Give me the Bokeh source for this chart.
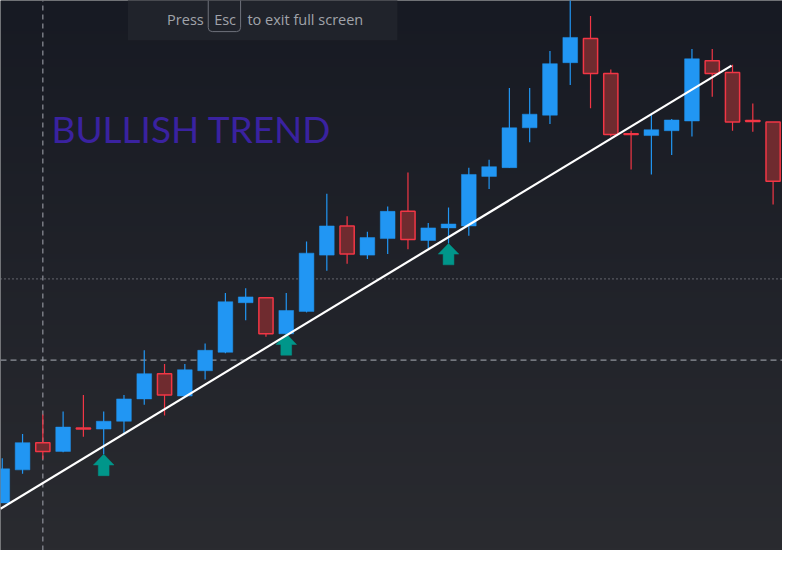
import numpy as np
from bokeh.plotting import figure
from bokeh.models import Range1d
from bokeh.core.properties import value
from bokeh.embed import file_html
from bokeh.resources import INLINE

# ---- data (candle index, price units) ----
idx = list(range(39))
opens  = [49, 83, 111, 102, 126, 125, 133, 156, 182, 159, 185, 204, 255, 260, 223, 246, 304, 334, 304, 321,
          349, 319, 332, 334, 385, 394, 435, 448, 502, 527, 491, 429, 427, 432, 442, 504, 492, 442.5, 441]
closes = [84, 111, 102, 127, 125, 133, 156, 182, 160, 186, 206, 256, 261, 223, 247, 306, 334, 305, 322, 349,
          320, 332, 336, 387, 395, 435, 449, 501, 528, 491, 428, 428, 433, 443, 506, 491, 441, 441.5, 380]
highs  = [95, 120, 140, 143, 160, 143, 160, 206, 192, 192, 213, 265, 270, 260, 265, 318, 367, 344, 328, 354,
          389, 337, 353, 394, 402, 476, 476, 514, 575, 550, 495, 432, 449, 444, 516, 516, 500, 460, 441]
lows   = [49, 79, 94, 101, 117, 99, 121, 150, 139, 159, 176, 203, 237, 220, 223, 245, 288, 295, 300, 305,
          310, 311, 316, 324, 372, 394, 420, 439, 479, 455, 426, 392, 387, 407, 426, 467, 432, 431, 356]

signal_idx = [5, 14, 22]          # buy-signal arrows under these candles
trend_x = [-0.09, 35.95]          # trend line end points
trend_y = [43, 499]
cross_idx = 2                     # crosshair position
cross_price = 196
price_line = 279.5                # dotted price line
title_text = "BULLISH TREND"

# ---- layout helpers (reference pixel -> data) ----
REF_W, REF_H = 798, 566
X0, DX = 1.8, 20.7
def px2x(px):
    return (px - X0) / DX
def py2y(py):
    return REF_H - py

W, H = 782, 550
p = figure(width=W, height=H, output_backend="svg", toolbar_location=None,
           x_range=Range1d(px2x(0), px2x(REF_W)), y_range=Range1d(0, REF_H),
           min_border=0, min_border_left=0, min_border_right=0, min_border_top=0, min_border_bottom=0)
p.axis.visible = False
p.grid.visible = False
p.outline_line_color = None
p.background_fill_color = "#202229"
p.border_fill_color = "#202229"

# background vertical gradient
N = 200
top_c = np.array([23, 26, 35], dtype=float)
bot_c = np.array([42, 43, 48], dtype=float)
t = np.linspace(0, 1, N)[:, None]
cols = bot_c * (1 - t) + top_c * t
img = np.empty((N, 1), dtype=np.uint32)
view = img.view(dtype=np.uint8).reshape((N, 1, 4))
view[:, 0, 0] = cols[:, 0]
view[:, 0, 1] = cols[:, 1]
view[:, 0, 2] = cols[:, 2]
view[:, 0, 3] = 255
p.image_rgba(image=[img], x=px2x(0), y=0, dw=px2x(REF_W) - px2x(0), dh=REF_H)

# dotted price line and dashed crosshair
p.line([px2x(0), px2x(REF_W)], [price_line, price_line], line_color="#8a8d96", line_width=1.2, line_dash="1 3")
p.line([px2x(0), px2x(REF_W)], [cross_price, cross_price], line_color="#8f929b", line_width=1.2, line_dash="6 4")
p.line([cross_idx, cross_idx], [0, REF_H], line_color="#8f929b", line_width=1.2, line_dash="5 4")

# candles
UP, DOWN_FILL, DOWN_LINE = "#2196f3", "#6f2b2f", "#f23645"
is_up = [c >= o for o, c in zip(opens, closes)]
wick_col = [UP if u else DOWN_LINE for u in is_up]
p.segment(x0=idx, y0=lows, x1=idx, y1=highs, line_color=wick_col, line_width=1.2)

ux = [i for i, u in zip(idx, is_up) if u]
utop = [max(o, c) for o, c, u in zip(opens, closes, is_up) if u]
ubot = [min(o, c) for o, c, u in zip(opens, closes, is_up) if u]
p.vbar(x=ux, top=utop, bottom=ubot, width=0.725, fill_color=UP, line_color=UP, line_width=0.5)

dx_ = [i for i, u in zip(idx, is_up) if not u]
dtop = [max(o, c) for o, c, u in zip(opens, closes, is_up) if not u]
dbot = [min(o, c) for o, c, u in zip(opens, closes, is_up) if not u]
p.vbar(x=dx_, top=dtop, bottom=dbot, width=0.70, fill_color=DOWN_FILL, line_color=DOWN_LINE, line_width=1.5)

# signal arrows (tip at the candle low)
hw, sw, hh, th = 0.507, 0.266, 11, 22
axs, ays = [], []
for i in signal_idx:
    tip = lows[i]
    axs.append([i, i + hw, i + sw, i + sw, i - sw, i - sw, i - hw])
    ays.append([tip, tip - hh, tip - hh, tip - th, tip - th, tip - hh, tip - hh])
p.patches(axs, ays, fill_color="#00968a", line_color="#00968a", line_width=0.5)

# trend line
p.line(trend_x, trend_y, line_color="#ffffff", line_width=2.2)

# title text
p.text(x=[px2x(52)], y=[py2y(132)], text=[title_text], text_font=value("Lato"),
       text_font_size="37px", text_color="#3a22a0", text_baseline="alphabetic")

# full-screen overlay notice
p.quad(left=[px2x(130)], right=[px2x(405)], top=[py2y(-5)], bottom=[py2y(41)],
       fill_color="#20232b", line_color=None)
p.quad(left=[px2x(212)], right=[px2x(245)], top=[py2y(-6)], bottom=[py2y(32)],
       fill_color=None, line_color="#6e717b", line_width=1, border_radius=4)
for px, s in [(170, "Press"), (218, "Esc"), (252, "to exit full screen")]:
    p.text(x=[px2x(px)], y=[py2y(20)], text=[s], text_font=value("Open Sans"),
           text_font_size="14.5px", text_color="#a0a3aa", text_baseline="alphabetic")

open("out.html", "w").write(file_html(p, INLINE))
